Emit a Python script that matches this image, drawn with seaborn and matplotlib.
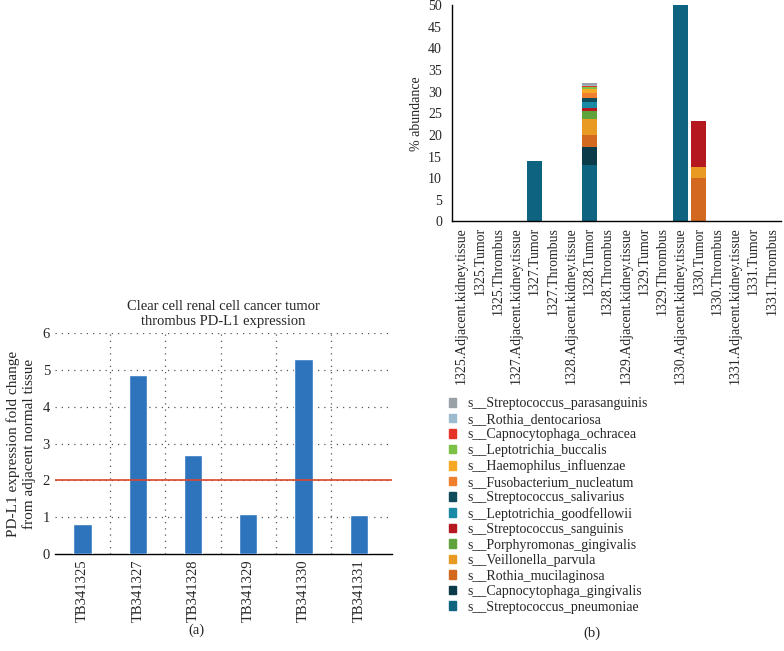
import numpy as np
import matplotlib
matplotlib.use("Agg")
import matplotlib.pyplot as plt
import matplotlib.patches as mpatches
import pandas as pd
import seaborn as sns

# panel (a) data
patients = ["TB341325", "TB341327", "TB341328", "TB341329", "TB341330", "TB341331"]
fold_change = [0.82, 4.87, 2.70, 1.08, 5.30, 1.07]
threshold = 2

# panel (b) data
samples = ["1325.Adjacent.kidney.tissue", "1325.Tumor", "1325.Thrombus",
           "1327.Adjacent.kidney.tissue", "1327.Tumor", "1327.Thrombus",
           "1328.Adjacent.kidney.tissue", "1328.Tumor", "1328.Thrombus",
           "1329.Adjacent.kidney.tissue", "1329.Tumor", "1329.Thrombus",
           "1330.Adjacent.kidney.tissue", "1330.Tumor", "1330.Thrombus",
           "1331.Adjacent.kidney.tissue", "1331.Tumor", "1331.Thrombus"]
# stacking order, bottom to top
species = ["s__Streptococcus_pneumoniae", "s__Capnocytophaga_gingivalis",
           "s__Rothia_mucilaginosa", "s__Veillonella_parvula",
           "s__Porphyromonas_gingivalis", "s__Streptococcus_sanguinis",
           "s__Leptotrichia_goodfellowii", "s__Streptococcus_salivarius",
           "s__Fusobacterium_nucleatum", "s__Haemophilus_influenzae",
           "s__Leptotrichia_buccalis", "s__Capnocytophaga_ochracea",
           "s__Rothia_dentocariosa", "s__Streptococcus_parasanguinis"]
species_colors = ["#0e6480", "#0b3a48", "#d2691f", "#e99a22",
                  "#5ea33c", "#b5191f", "#1a8aa6", "#0e4c5c",
                  "#ef7f2c", "#f6a925", "#7cc046", "#e6332a",
                  "#9dbbcf", "#9aa1a6"]
tumor_1327 = [14.0, 0, 0, 0, 0, 0, 0, 0, 0, 0, 0, 0, 0, 0]
tumor_1328 = [13.0, 4.2, 2.8, 3.7, 1.9, 0.6, 1.3, 1.1, 1.2, 0.9, 0.3, 0.3, 0.3, 0.4]
adjacent_1330 = [50.0, 0, 0, 0, 0, 0, 0, 0, 0, 0, 0, 0, 0, 0]
tumor_1330 = [0, 0, 10.0, 2.5, 0, 10.8, 0, 0, 0, 0, 0, 0, 0, 0]

sns.set_style("white")
plt.rcParams["font.family"] = ["Liberation Serif", "DejaVu Serif"]

fig = plt.figure(figsize=(7.84, 6.51), dpi=100)

# ---------------- panel (a)
ax1 = fig.add_axes([0.070, 0.149, 0.430, 0.339])
dfa = pd.DataFrame({"patient": patients, "fold": fold_change})
sns.barplot(data=dfa, x="patient", y="fold", color="#2e74bd", width=0.33,
            saturation=1, ax=ax1, zorder=3)
ax1.set_xlim(-0.5, 5.6)
ax1.set_ylim(0, 6)
ax1.set_yticks(range(7))
for y in range(1, 7):
    ax1.axhline(y, color="#555555", lw=0.9, ls=(0, (1, 4)), zorder=1)
for x in np.arange(0.5, 5.5, 1):
    ax1.axvline(x, color="#555555", lw=0.9, ls=(0, (1, 4)), zorder=1)
ax1.axhline(threshold, color="#d9472b", lw=1.2, zorder=4)
for s in ["left", "right", "top"]:
    ax1.spines[s].set_visible(False)
ax1.spines["bottom"].set_color("black")
ax1.spines["bottom"].set_linewidth(1.0)
ax1.tick_params(axis="both", length=0, labelsize=10.5)
ax1.tick_params(axis="x", rotation=90, pad=4)
ax1.set_xlabel("")
ax1.set_ylabel("PD-L1 expression fold change\nfrom adjacent normal tissue",
               fontsize=11, labelpad=5)
ax1.set_title("Clear cell renal cell cancer tumor\nthrombus PD-L1 expression",
              fontsize=10.5, pad=6)
fig.text(0.25, 0.032, "(a)", ha="center", va="center", fontsize=10.5)

# ---------------- panel (b)
ax2 = fig.add_axes([0.577, 0.660, 0.419, 0.332])
dfb = pd.DataFrame(0.0, index=samples, columns=species)
dfb.loc["1327.Tumor"] = tumor_1327
dfb.loc["1328.Tumor"] = tumor_1328
dfb.loc["1330.Adjacent.kidney.tissue"] = adjacent_1330
dfb.loc["1330.Tumor"] = tumor_1330
dfb.plot(kind="bar", stacked=True, color=species_colors, width=0.8,
         ax=ax2, legend=False, edgecolor="none")
ax2.set_xlim(-0.5, len(samples) - 0.5)
ax2.set_ylim(0, 50)
ax2.set_yticks(range(0, 51, 5))
ax2.set_xticks(np.arange(-0.5, len(samples), 1))
ax2.set_xticklabels([])
ax2.set_xticks(range(len(samples)), minor=True)
ax2.set_xticklabels(samples, minor=True, rotation=90, fontsize=10)
ax2.tick_params(axis="x", which="major", length=4, width=1, color="black", direction="out")
ax2.tick_params(axis="x", which="minor", length=0, pad=4)
ax2.tick_params(axis="y", length=4, width=1, color="black", direction="out", labelsize=10)
for s in ["right", "top"]:
    ax2.spines[s].set_visible(False)
for s in ["left", "bottom"]:
    ax2.spines[s].set_color("black")
    ax2.spines[s].set_linewidth(1.0)
ax2.set_xlabel("")
ax2.set_ylabel("% abundance", fontsize=10)

handles = [mpatches.Patch(color=c, label=l) for c, l in zip(species_colors, species)]
fig.legend(handles=handles[::-1], loc="upper left", bbox_to_anchor=(0.565, 0.398),
           frameon=False, fontsize=10, handlelength=0.55, handleheight=0.55,
           handletextpad=0.8, labelspacing=0.18, borderaxespad=0)
fig.text(0.755, 0.028, "(b)", ha="center", va="center", fontsize=10.5)

fig.savefig("out.png", dpi=100)
